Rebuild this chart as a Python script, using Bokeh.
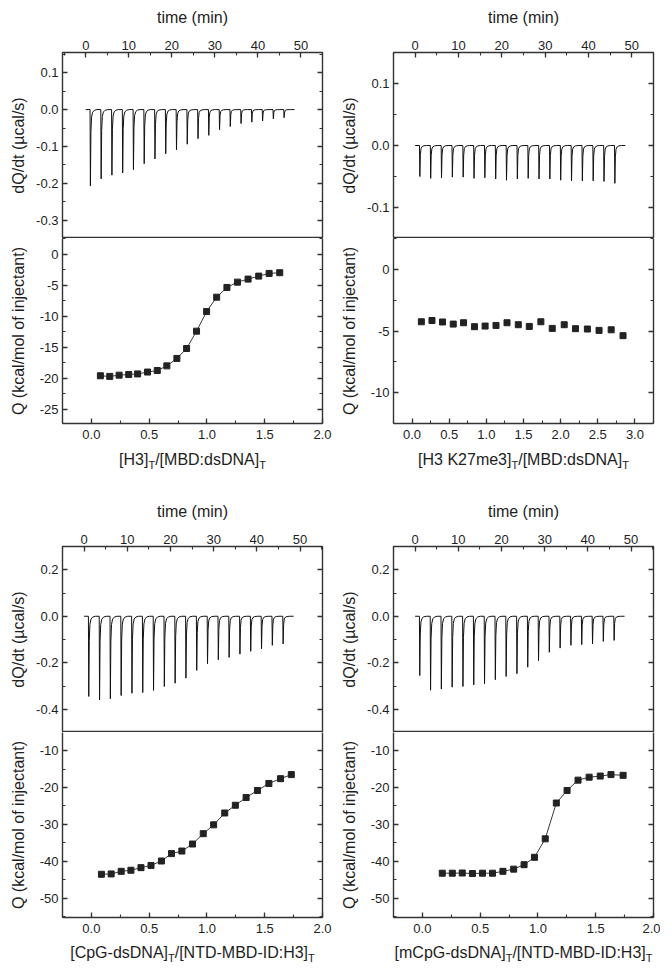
from bokeh.plotting import figure
from bokeh.layouts import row, column
from bokeh.models import LinearAxis, SingleIntervalTicker, Range1d, Spacer, CustomJSTickFormatter
from bokeh.core.properties import value
from bokeh.embed import file_html
from bokeh.resources import INLINE

# ---------------- data ----------------
# injection schedule (min) and end of recording
inj_time = [1.0, 3.5, 6.0, 8.5, 11.0, 13.5, 16.0, 18.5, 21.0, 23.5, 26.0,
            28.5, 31.0, 33.5, 36.0, 38.5, 41.0, 43.5, 46.0]
trace_start = 0.0
trace_end = 48.5
# shape of one injection peak (min after injection, fraction of peak depth)
spike_dt = [0.0, 0.08, 0.2, 0.35, 0.6, 1.0, 1.6]
spike_frac = [0.0, 1.0, 0.3, 0.1, 0.035, 0.01, 0.0]

# raw peak depths (ucal/s)
tl_peaks = [-0.207, -0.188, -0.178, -0.172, -0.163, -0.147, -0.134, -0.120, -0.109, -0.094,
            -0.079, -0.070, -0.055, -0.046, -0.038, -0.034, -0.031, -0.025, -0.022]
tr_peaks = [-0.050, -0.053, -0.052, -0.051, -0.051, -0.053, -0.052, -0.054, -0.056, -0.054,
            -0.053, -0.054, -0.054, -0.056, -0.057, -0.057, -0.057, -0.058, -0.061]
bl_peaks = [-0.345, -0.360, -0.355, -0.341, -0.331, -0.328, -0.319, -0.302, -0.288, -0.266,
            -0.233, -0.204, -0.187, -0.177, -0.163, -0.151, -0.140, -0.125, -0.119]
br_peaks = [-0.255, -0.318, -0.313, -0.305, -0.302, -0.295, -0.290, -0.273, -0.259, -0.247,
            -0.219, -0.191, -0.155, -0.137, -0.125, -0.122, -0.119, -0.108, -0.104]

# integrated heats
tl_ratio = [0.078, 0.159, 0.240, 0.323, 0.400, 0.486, 0.570, 0.653, 0.740, 0.824,
            0.910, 0.997, 1.084, 1.173, 1.264, 1.356, 1.448, 1.538, 1.630]
tl_q = [-19.6, -19.7, -19.5, -19.4, -19.3, -19.0, -18.75, -18.0, -16.8, -15.2,
        -12.4, -9.24, -6.92, -5.35, -4.49, -4.0, -3.52, -3.08, -2.97]
tr_ratio = [0.125, 0.268, 0.410, 0.554, 0.693, 0.840, 0.983, 1.130, 1.278, 1.430,
            1.578, 1.734, 1.887, 2.048, 2.200, 2.360, 2.517, 2.680, 2.840]
tr_q = [-4.25, -4.15, -4.27, -4.44, -4.33, -4.65, -4.60, -4.55, -4.33, -4.49,
        -4.63, -4.25, -4.79, -4.49, -4.81, -4.84, -4.95, -4.90, -5.38]
bl_ratio = [0.087, 0.171, 0.258, 0.342, 0.429, 0.516, 0.606, 0.693, 0.783, 0.875,
            0.968, 1.058, 1.154, 1.246, 1.339, 1.437, 1.536, 1.637, 1.730]
bl_q = [-43.5, -43.4, -42.7, -42.4, -41.7, -41.1, -39.9, -37.9, -37.2, -35.3,
        -32.5, -30.1, -26.9, -24.8, -22.7, -20.8, -18.9, -17.6, -16.5]
br_ratio = [0.172, 0.259, 0.345, 0.433, 0.520, 0.607, 0.697, 0.790, 0.880, 0.970,
            1.063, 1.159, 1.252, 1.347, 1.443, 1.539, 1.632, 1.737]
br_q = [-43.2, -43.2, -43.15, -43.3, -43.2, -43.2, -42.7, -42.1, -40.9, -38.9,
        -33.9, -24.2, -20.8, -18.0, -17.2, -16.9, -16.5, -16.7]

time_label = "time (min)"
raw_label = "dQ/dt (\u00b5cal/s)"
q_label = "Q (kcal/mol of injectant)"
tl_xlabel = [("[H3]", False), ("T", True), ("/[MBD:dsDNA]", False), ("T", True)]
tr_xlabel = [("[H3 K27me3]", False), ("T", True), ("/[MBD:dsDNA]", False), ("T", True)]
bl_xlabel = [("[CpG-dsDNA]", False), ("T", True), ("/[NTD-MBD-ID:H3]", False), ("T", True)]
br_xlabel = [("[mCpG-dsDNA]", False), ("T", True), ("/[NTD-MBD-ID:H3]", False), ("T", True)]

# ---------------- style ----------------
FONT = "Liberation Sans"
TXT = "#1e1e1e"
LINE = "#333333"
LW = 1.4
TICK_FS = "13px"
TITLE_FS = 16
SUB_FS = 11
FW = 260
BL = 54

ARIAL = {' ': 278, '[': 278, ']': 278, '/': 278, ':': 278, '-': 333, '(': 333, ')': 333,
         'A': 667, 'B': 667, 'C': 722, 'D': 722, 'G': 778, 'H': 722, 'I': 278, 'K': 667,
         'M': 833, 'N': 722, 'P': 667, 'T': 611, 'a': 556, 'c': 500, 'd': 556, 'e': 556,
         'g': 556, 'm': 833, 'n': 556, 'p': 556, 's': 500}


def text_w(s, size):
    return sum(ARIAL.get(c, 556) for c in s) * size / 1000.0


def fmt(dec):
    return CustomJSTickFormatter(args=dict(d=dec), code="""
        if (Math.abs(tick) < 1e-9) { return d > 0 ? (0).toFixed(d) : "0"; }
        return tick.toFixed(d);
    """)


def build_trace(peaks):
    t = [trace_start]
    y = [0.0]
    for ti, pk in zip(inj_time, peaks):
        for dt, fr in zip(spike_dt, spike_frac):
            t.append(ti + dt)
            y.append(pk * fr)
    t.append(trace_end)
    y.append(0.0)
    return t, y


def style_axis(ax, labels=True, standoff=4, title_standoff=8, line=False):
    ax.axis_line_color = LINE if line else None
    ax.axis_line_width = LW
    ax.major_tick_in = 5
    ax.major_tick_out = 0
    ax.minor_tick_in = 3
    ax.minor_tick_out = 0
    ax.major_tick_line_color = LINE
    ax.minor_tick_line_color = LINE
    ax.major_tick_line_width = 1.3
    ax.minor_tick_line_width = 1.1
    ax.major_label_text_font = FONT
    if labels:
        ax.major_label_text_color = TXT
        ax.major_label_text_font_size = TICK_FS
        ax.major_label_standoff = standoff
    else:
        ax.major_label_text_color = None
        ax.major_label_text_font_size = "1px"
        ax.major_label_standoff = 0
    ax.axis_label_text_font = FONT
    ax.axis_label_text_font_size = f"{TITLE_FS}px"
    ax.axis_label_text_font_style = "normal"
    ax.axis_label_text_color = TXT
    ax.axis_label_standoff = title_standoff


def base_fig(xr, yr, fh, br, bt, bb, above):
    p = figure(frame_width=FW, frame_height=fh, x_range=Range1d(*xr), y_range=Range1d(*yr),
               x_axis_location="above" if above else "below",
               min_border_left=BL, min_border_right=br, min_border_top=bt, min_border_bottom=bb,
               toolbar_location=None, output_backend="svg")
    p.xgrid.visible = False
    p.ygrid.visible = False
    p.outline_line_color = LINE
    p.outline_line_width = LW
    p.background_fill_color = "white"
    p.border_fill_color = "white"
    return p


def raw_panel(peaks, xr, yr, yint, ydec, br):
    p = base_fig(xr, yr, 186, br, 0, 0, True)
    xt = SingleIntervalTicker(interval=10, num_minor_ticks=2)
    yt = SingleIntervalTicker(interval=yint, num_minor_ticks=2)
    p.xaxis.ticker = xt
    p.yaxis.ticker = yt
    p.xaxis.formatter = fmt(0)
    p.yaxis.formatter = fmt(ydec)
    p.xaxis.axis_label = time_label
    p.yaxis.axis_label = raw_label
    style_axis(p.xaxis[0], True, 3, 12)
    style_axis(p.yaxis[0], True, 4, 6)
    ra = LinearAxis(ticker=yt)
    style_axis(ra, False)
    p.add_layout(ra, "right")
    t, y = build_trace(peaks)
    p.line(t, y, line_color="#111111", line_width=1)
    return p


def q_panel(ratio, q, xr, yr, yint, xint, br, fit=True):
    p = base_fig(xr, yr, 185, br, 0, 22, False)
    p.outline_line_color = None  # the top edge is drawn by the raw panel above
    xt = SingleIntervalTicker(interval=xint, num_minor_ticks=2)
    yt = SingleIntervalTicker(interval=yint, num_minor_ticks=2)
    p.xaxis.ticker = xt
    p.yaxis.ticker = yt
    p.xaxis.formatter = fmt(1)
    p.yaxis.formatter = fmt(0)
    p.xaxis.axis_label = None
    p.yaxis.axis_label = q_label
    style_axis(p.xaxis[0], True, 6, 0, line=True)
    style_axis(p.yaxis[0], True, 4, 10, line=True)
    ra = LinearAxis(ticker=yt)
    style_axis(ra, False, line=True)
    p.add_layout(ra, "right")
    if fit:
        p.line(ratio, q, line_color="#3a3a3a", line_width=1)
    p.scatter(ratio, q, marker="square", size=6, fill_color="#222222", line_color="#222222")
    return p


def title_strip(parts, br, h, base):
    """x-axis title with subscripts, drawn in a strip whose frame lines up with the panel"""
    s = figure(frame_width=FW, frame_height=h, x_range=Range1d(0, FW), y_range=Range1d(-h, 0),
               x_axis_type=None, y_axis_type=None, toolbar_location=None, output_backend="svg",
               min_border_left=BL, min_border_right=br, min_border_top=0, min_border_bottom=0)
    s.xgrid.visible = False
    s.ygrid.visible = False
    s.outline_line_color = None
    s.background_fill_color = "white"
    s.border_fill_color = "white"
    widths = [text_w(t, SUB_FS if sub else TITLE_FS) for t, sub in parts]
    x0 = FW / 2.0 - sum(widths) / 2.0
    mx, mt, sx, st = [], [], [], []
    for (t, sub), w in zip(parts, widths):
        if sub:
            sx.append(x0); st.append(t)
        else:
            mx.append(x0); mt.append(t)
        x0 += w
    s.text(x=mx, y=[-base] * len(mx), text=mt, text_font=value(FONT),
           text_font_size=value(f"{TITLE_FS}px"), text_color=TXT,
           text_align="left", text_baseline="alphabetic")
    s.text(x=sx, y=[-(base + 5)] * len(sx), text=st, text_font=value(FONT),
           text_font_size=value(f"{SUB_FS}px"), text_color=TXT,
           text_align="left", text_baseline="alphabetic")
    return s


tl_top = raw_panel(tl_peaks, (-5.4, 55.0), (-0.35, 0.155), 0.1, 1, 15)
tl_bot = q_panel(tl_ratio, tl_q, (-0.25, 2.0), (-27.3, 2.55), 5, 0.5, 15)
tl_ttl = title_strip(tl_xlabel, 15, 43, 14)
tr_top = raw_panel(tr_peaks, (-5.0, 55.0), (-0.15, 0.15), 0.1, 1, 7)
tr_bot = q_panel(tr_ratio, tr_q, (-0.25, 3.25), (-12.5, 2.5), 5, 0.5, 7, fit=False)
tr_ttl = title_strip(tr_xlabel, 7, 43, 14)
bl_top = raw_panel(bl_peaks, (-5.0, 55.2), (-0.5, 0.3), 0.2, 1, 15)
bl_bot = q_panel(bl_ratio, bl_q, (-0.25, 2.0), (-55.2, -5.1), 10, 0.5, 15)
bl_ttl = title_strip(bl_xlabel, 15, 23, 13)
br_top = raw_panel(br_peaks, (-5.0, 55.2), (-0.5, 0.3), 0.2, 1, 7)
br_bot = q_panel(br_ratio, br_q, (-0.25, 2.0), (-55.2, -5.1), 10, 0.5, 7)
br_ttl = title_strip(br_xlabel, 7, 23, 13)

layout = column(Spacer(width=10, height=5),
                row(Spacer(width=6, height=10),
                    column(tl_top, tl_bot, tl_ttl), column(tr_top, tr_bot, tr_ttl)),
                Spacer(width=10, height=11),
                row(Spacer(width=6, height=10),
                    column(bl_top, bl_bot, bl_ttl), column(br_top, br_bot, br_ttl)))

open("out.html", "w").write(file_html(layout, INLINE))
